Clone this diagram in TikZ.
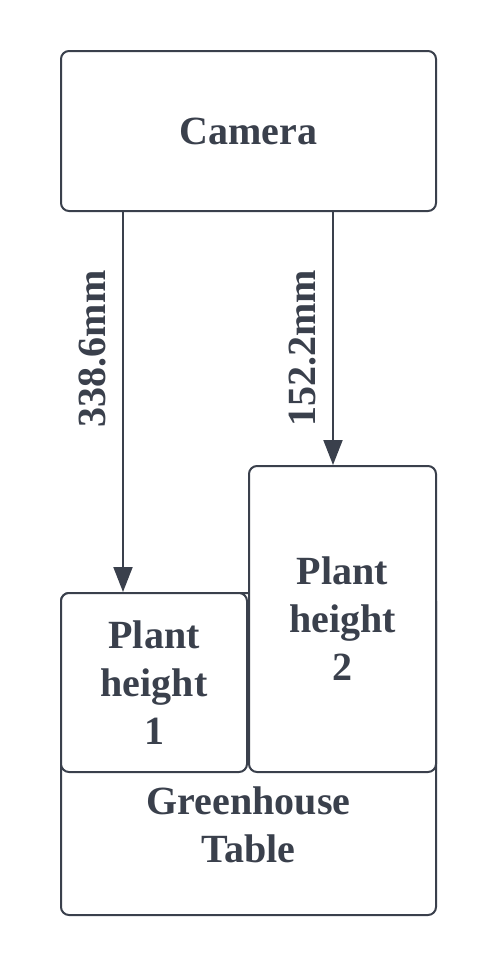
\documentclass[tikz,border=0pt]{standalone}
\usepackage{fontspec}
\setmainfont{Liberation Serif}
\usepackage{tikz}
\usetikzlibrary{positioning,arrows.meta,calc}
\definecolor{inkgray}{RGB}{58,64,76}
\tikzset{
  box/.style={
      draw=inkgray,
      line width=1pt,
      rounded corners=4pt,
      fill=white,
      anchor=north west,
      align=center,
      inner sep=0pt,
      text=inkgray,
      font=\fontsize{20}{24}\selectfont\bfseries,
  },
  measure/.style={
      draw=inkgray,
      line width=1pt,
      -{Triangle[length=12.5pt,width=9.5pt]},
  },
  distlabel/.style={
      rotate=90,
      anchor=south,
      inner sep=8pt,
      text=inkgray,
      font=\fontsize{20}{24}\selectfont\bfseries,
  }
}

\begin{document}
\begin{tikzpicture}[x=0.5pt,y=-0.5pt]
  \useasboundingbox (0,0) rectangle (491,971);

  \node[box, minimum width=187.5pt, minimum height=80pt] (camera) at (60,50) {Camera};
  % table sits behind the two plants
  \node[box, minimum width=187.5pt, minimum height=161pt,
        label={[name=tablelabel, align=center, text=inkgray,
                font=\fontsize{20}{24}\selectfont\bfseries, yshift=-35.5pt]center:Greenhouse\\Table}]
        (table) at (60,592) {};
  \node[box, minimum width=93pt, minimum height=89.5pt] (plant1) at (60,592) {Plant\\height\\1};
  \node[box, minimum width=93.5pt, minimum height=153pt] (plant2) at (248,465) {Plant\\height\\2};

  \coordinate (h1) at ([xshift=31.5pt]plant1.north west);
  \coordinate (h2) at ([xshift=42.5pt]plant2.north west);

  \draw[measure] (camera.south -| h1) -- node[distlabel, pos=0.36] (d1) {338.6mm} (h1);
  \draw[measure] (camera.south -| h2) -- node[distlabel, pos=0.54] (d2) {152.2mm} (h2);
\end{tikzpicture}
\end{document}
